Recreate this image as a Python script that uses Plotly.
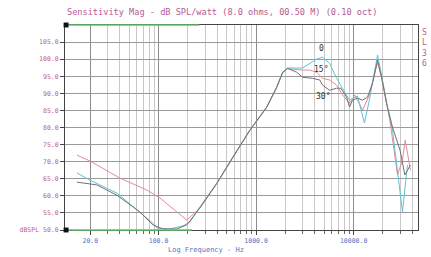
import math
import plotly.graph_objects as go

# ---- data ----
freq_a = [14.6, 19.8, 37.4, 60, 87.5, 96, 130.6, 177.5, 209, 265, 395, 576, 859, 1283, 1624, 1871, 2105,
          2999, 3538, 4172, 4806, 5673, 6693, 7710, 9086, 10970, 12900, 14500, 17590, 19330, 21740,
          25040, 28180, 31680, 35630]
spl_a = [66.7, 64.6, 60.8, 55.8, 52.0, 50.6, 50.3, 51.2, 52.3, 56.7, 63.7, 71.3, 79.2, 86.0, 91.8, 96.2, 97.4,
         97.4, 98.8, 100.0, 100.6, 98.8, 94.4, 91.5, 88.0, 89.2, 81.3, 88.0, 101.2, 95.3, 87.1,
         79.2, 67.5, 55.3, 69.0]

freq_b = [14.6, 19.8, 40.2, 75.9, 103, 153.9, 195, 265, 395, 576, 859, 1283, 1624, 1871, 2105,
          2999, 3538, 4172, 4806, 5673, 6693, 7710, 9086, 10300, 12350, 14500, 17590, 20200, 23500,
          28180, 31680, 33800, 38260]
spl_b = [71.9, 70.2, 65.2, 61.7, 59.4, 55.3, 52.9, 56.4, 63.5, 71.1, 79.0, 85.8, 91.6, 96.0, 97.2,
         96.8, 96.8, 96.2, 94.4, 93.9, 92.4, 89.5, 87.1, 89.5, 85.1, 89.5, 99.1, 92.4, 82.2,
         66.1, 70.5, 76.3, 67.5]

freq_c = [14.6, 23.3, 37.4, 64.4, 87.5, 110.6, 153.9, 195, 265, 395, 576, 859, 1283, 1624, 1871, 2105,
          2603, 2999, 3800, 4500, 4806, 5673, 6693, 7400, 8470, 9086, 9750, 10970, 12350, 13890,
          15630, 17590, 19330, 21740, 25040, 29900, 33500, 38260]
spl_c = [64.0, 63.2, 60.2, 55.3, 51.5, 50.3, 50.3, 51.5, 56.4, 63.6, 71.2, 79.1, 85.9, 91.7, 96.1, 97.3,
         96.2, 94.7, 94.4, 93.9, 92.4, 90.9, 91.5, 91.5, 88.9, 86.0, 88.0, 88.6, 88.0, 88.9,
         93.0, 99.7, 94.7, 87.1, 80.1, 73.4, 66.1, 69.0]

x_tick_vals = [20, 100, 1000, 10000]
x_tick_text = ["20.0", "100.0", "1000.0", "10000.0"]
y_tick_vals = [50, 55, 60, 65, 70, 75, 80, 85, 90, 95, 100, 105]
y_tick_text = ["dBSPL 50.0", "55.0", "60.0", "65.0", "70.0", "75.0", "80.0", "85.0",
               "90.0", "95.0", "100.0", "105.0"]
minor_vals = [m * d for d in (10, 100, 1000, 10000) for m in range(2, 10) if m * d <= 45000]

curve_labels = ["0", "15°", "30°"]
label_freqs = [4700, 4600, 4800]
label_spl = [103.0, 97.0, 89.0]

TITLE = "Sensitivity Mag - dB SPL/watt (8.0 ohms, 00.50 M) (0.10 oct)"
XTITLE = "Log Frequency - Hz"
SIDE = "S<br>L<br>3<br>6"

fig = go.Figure()
fig.add_trace(go.Scatter(x=freq_b, y=spl_b, mode="lines", line=dict(color="#e58a9c", width=1)))
fig.add_trace(go.Scatter(x=freq_a, y=spl_a, mode="lines", line=dict(color="#5ec4d2", width=1)))
fig.add_trace(go.Scatter(x=freq_c, y=spl_c, mode="lines", line=dict(color="#7a6f6c", width=1)))

for t, fx, fy in zip(curve_labels, label_freqs, label_spl):
    fig.add_annotation(x=math.log10(fx), y=fy, xref="x", yref="y", text=t, showarrow=False,
                       font=dict(family="DejaVu Sans Mono", size=8, color="#333333"))

fig.add_annotation(x=0, y=1, xref="paper", yref="paper", yshift=13, xanchor="left", yanchor="middle",
                   text=TITLE, showarrow=False,
                   font=dict(family="DejaVu Sans Mono", size=8.6, color="#b45a92"))
fig.add_annotation(x=0.4, y=0, xref="paper", yref="paper", yshift=-20, xanchor="center", yanchor="middle",
                   text=XTITLE, showarrow=False,
                   font=dict(family="DejaVu Sans Mono", size=7, color="#5a6fc0"))
fig.add_annotation(x=1, y=1, xref="paper", yref="paper", xshift=6, yshift=-1, xanchor="center",
                   yanchor="top", text=SIDE, showarrow=False,
                   font=dict(family="DejaVu Sans Mono", size=8, color="#c0608a"))

# decorative green marker lines and black corner squares
fig.add_shape(type="line", xref="paper", yref="paper", x0=0, x1=0.38, y0=1, y1=1,
              line=dict(color="#63c46a", width=1.5))
fig.add_shape(type="line", xref="paper", yref="paper", x0=0, x1=0.36, y0=0, y1=0,
              line=dict(color="#63c46a", width=1.5))
for yy in (0, 1):
    fig.add_shape(type="rect", xref="paper", yref="paper", x0=-0.004, x1=0.01,
                  y0=yy - 0.012, y1=yy + 0.012, fillcolor="#111111", line=dict(width=0))

fig.update_xaxes(type="log", range=[1.0414, 4.66], tickvals=x_tick_vals, ticktext=x_tick_text,
                 showgrid=True, gridcolor="#8c8c8c", gridwidth=1,
                 minor=dict(tickvals=minor_vals, showgrid=True, gridcolor="#c8c8c8", ticks="outside",
                            ticklen=3, tickcolor="#666666"),
                 ticks="outside", ticklen=4, tickcolor="#444444",
                 showline=True, linecolor="#444444", mirror=True, zeroline=False,
                 tickfont=dict(family="DejaVu Sans Mono", size=6.5, color="#5a6fc0"))
fig.update_yaxes(range=[50, 110], tickvals=y_tick_vals, ticktext=y_tick_text,
                 showgrid=True, gridcolor="#9a9a9a", gridwidth=1,
                 ticks="outside", ticklen=4, tickcolor="#444444",
                 showline=True, linecolor="#444444", mirror=True, zeroline=False,
                 tickfont=dict(family="DejaVu Sans Mono", size=6.5, color="#c0608a"))

fig.update_layout(width=431, height=257, margin=dict(l=65, r=13, t=25, b=27),
                  paper_bgcolor="white", plot_bgcolor="white", showlegend=False)

fig.write_html("out.html", config={"displayModeBar": False},
               post_script="document.body.style.margin='0';document.body.style.padding='0';")
